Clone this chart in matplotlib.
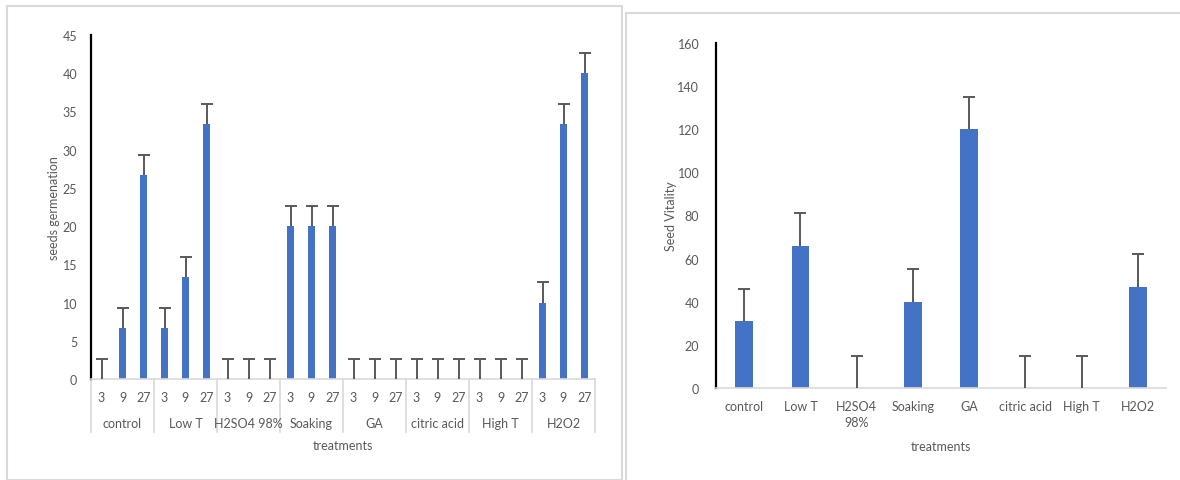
import matplotlib.pyplot as plt
import numpy as np
from matplotlib.lines import Line2D
from matplotlib.patches import Rectangle

plt.rcParams['font.family'] = ['Lato', 'DejaVu Sans']

treatments = ['control', 'Low T', 'H2SO4 98%', 'Soaking', 'GA', 'citric acid', 'High T', 'H2O2']
days = ['3', '9', '27']
germination = [0, 6.67, 26.67,
               6.67, 13.33, 33.33,
               0, 0, 0,
               20, 20, 20,
               0, 0, 0,
               0, 0, 0,
               0, 0, 0,
               10, 33.33, 40]
germination_err = [2.67] * 24

vitality_labels = ['control', 'Low T', 'H2SO4\n98%', 'Soaking', 'GA', 'citric acid', 'High T', 'H2O2']
vitality = [31, 66, 0, 40, 120, 0, 0, 47]
vitality_err = [15] * 8

bar_color = '#4472C4'
err_color = '#595959'
text_color = '#595959'
grid_gray = '#D9D9D9'
fs = 9

fig = plt.figure(figsize=(11.8, 4.81), dpi=100)

# panel frames
fig.patches.append(Rectangle((7 / 1180, 0), 615 / 1180, (481 - 7) / 481, transform=fig.transFigure,
                             fill=False, edgecolor='#D9D9D9', linewidth=1.5))
fig.patches.append(Rectangle((626 / 1180, -0.01), 0.5, (481 - 14) / 481 + 0.01, transform=fig.transFigure,
                             fill=False, edgecolor='#D9D9D9', linewidth=1.5))


def style_axes(ax):
    for s in ('top', 'right'):
        ax.spines[s].set_visible(False)
    ax.spines['left'].set_color('black')
    ax.spines['left'].set_linewidth(1.6)
    ax.spines['bottom'].set_color(grid_gray)
    ax.spines['bottom'].set_linewidth(1.2)
    ax.tick_params(axis='both', length=0, labelsize=fs, colors=text_color)


def upper_errors(ax, x, vals, errs):
    # only the upper half of the error bar, like Excel's "plus" direction
    _, caps, _ = ax.errorbar(x, vals, yerr=[np.zeros(len(x)), errs], fmt='none',
                             ecolor=err_color, elinewidth=1.4, capsize=4.6,
                             capthick=1.4, zorder=3)
    for c in caps:
        if np.allclose(c.get_ydata(), vals):
            c.set_visible(False)


# ---- left: seeds germination ----
ax1 = fig.add_axes([91 / 1180, 101 / 481, 504 / 1180, 344 / 481])
x1 = np.arange(len(germination))
ax1.bar(x1, germination, width=0.33, color=bar_color, zorder=2)
upper_errors(ax1, x1, germination, germination_err)
ax1.set_xlim(-0.5, len(germination) - 0.5)
ax1.set_ylim(0, 45)
ax1.set_yticks(np.arange(0, 46, 5))
ax1.set_xticks(x1)
ax1.set_xticklabels(days * len(treatments))
ax1.tick_params(axis='x', pad=9)
ax1.tick_params(axis='y', pad=10)
style_axes(ax1)
ax1.set_ylabel('seeds germenation', fontsize=fs, color=text_color, labelpad=2)

trans = ax1.get_xaxis_transform()
for g in range(len(treatments) + 1):
    xs = g * 3 - 0.5
    ax1.add_line(Line2D([xs, xs], [0, -0.154], transform=trans, color=grid_gray,
                        linewidth=1.2, clip_on=False))
for g, name in enumerate(treatments):
    ax1.text(g * 3 + 1, -0.128, name, transform=trans, ha='center', va='center',
             fontsize=fs, color=text_color)
ax1.text(0.5, -0.192, 'treatments', transform=ax1.transAxes, ha='center', va='center',
         fontsize=fs, color=text_color)

# ---- right: seed vitality ----
ax2 = fig.add_axes([716 / 1180, 92 / 481, 450 / 1180, 345 / 481])
x2 = np.arange(len(vitality))
ax2.bar(x2, vitality, width=0.31, color=bar_color, zorder=2)
upper_errors(ax2, x2, vitality, vitality_err)
ax2.set_xlim(-0.5, len(vitality) - 0.5)
ax2.set_ylim(0, 160)
ax2.set_yticks(np.arange(0, 161, 20))
ax2.set_xticks(x2)
ax2.set_xticklabels(vitality_labels, linespacing=1.35)
ax2.tick_params(axis='x', pad=9)
ax2.tick_params(axis='y', pad=12)
style_axes(ax2)
ax2.set_ylabel('Seed Vitality', fontsize=fs, color=text_color, labelpad=0)
ax2.set_xlabel('treatments', fontsize=fs, color=text_color, labelpad=9)

fig.savefig('out.png', dpi=100)
